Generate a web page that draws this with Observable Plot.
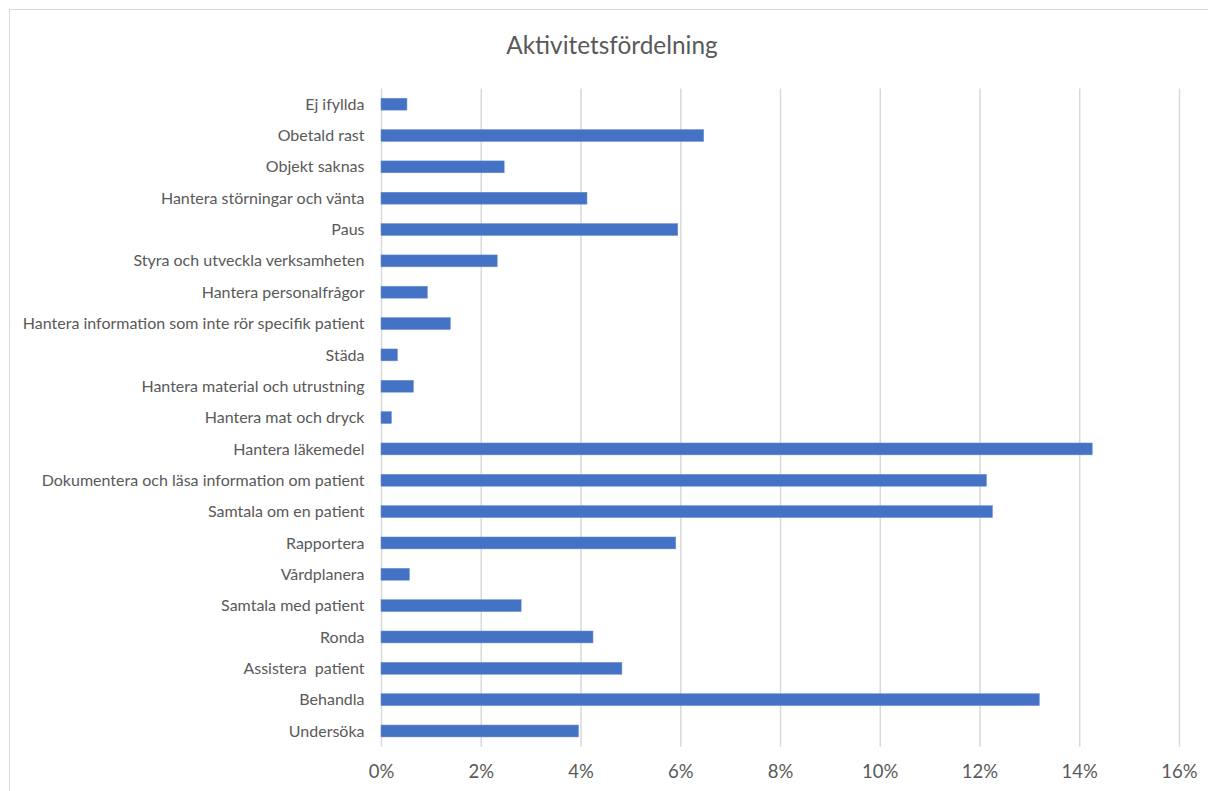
<!DOCTYPE html>
<html>
<head>
<meta charset="utf-8">
<script src="https://cdn.jsdelivr.net/npm/d3@7"></script>
<script src="https://cdn.jsdelivr.net/npm/@observablehq/plot@0.6"></script>
<style>
  html, body { margin: 0; padding: 0; background: #fff; overflow: hidden; }
  #frame { position: absolute; left: 9px; top: 9px; width: 1300px; height: 900px; border: 1.5px solid #d9d9d9; box-sizing: border-box; }
  #title { position: absolute; left: 0; top: 30px; width: 1224px; text-align: center; font-family: Lato, "Open Sans", sans-serif; font-size: 24.4px; color: #595959; }
  #chart { position: absolute; left: 0; top: 80px; }
</style>
</head>
<body>
<div id="frame"></div>
<div id="title">Aktivitetsfördelning</div>
<div id="chart"></div>
<script>
const categories = [
  "Ej ifyllda",
  "Obetald rast",
  "Objekt saknas",
  "Hantera störningar och vänta",
  "Paus",
  "Styra och utveckla verksamheten",
  "Hantera personalfrågor",
  "Hantera information som inte rör specifik patient",
  "Städa",
  "Hantera material och utrustning",
  "Hantera mat och dryck",
  "Hantera läkemedel",
  "Dokumentera och läsa information om patient",
  "Samtala om en patient",
  "Rapportera",
  "Vårdplanera",
  "Samtala med patient",
  "Ronda",
  "Assistera  patient",
  "Behandla",
  "Undersöka"
];
const values = [
  0.0052, 0.0647, 0.0247, 0.0413, 0.0595, 0.0233, 0.0093, 0.0139, 0.0033, 0.0065, 0.0021,
  0.1426, 0.1214, 0.1226, 0.0591, 0.0057, 0.0281, 0.0425, 0.0483, 0.1320, 0.0396
];
const xTicks = [0, 0.02, 0.04, 0.06, 0.08, 0.10, 0.12, 0.14, 0.16];

const data = categories.map((c, i) => ({ category: c, value: values[i] }));

const chart = Plot.plot({
  width: 1208,
  height: 711,
  marginLeft: 381,
  marginRight: 29,
  marginTop: 8.5,
  marginBottom: 44.35,
  style: { fontFamily: "Lato, 'Open Sans', sans-serif", color: "#595959", background: "transparent", overflow: "visible" },
  x: { domain: [0, 0.16], ticks: xTicks, tickFormat: d => Math.round(d * 100) + "%", label: null },
  y: { domain: categories, paddingInner: 0.62, paddingOuter: 0.31, round: false, label: null },
  marks: [
    Plot.ruleX(xTicks, { stroke: "#d9d9d9", strokeWidth: 1.5 }),
    Plot.barX(data, { y: "category", x: "value", fill: "#4472C4", stroke: "#6a8fd3", strokeWidth: 0.5 }),
    Plot.axisX({ ticks: xTicks, tickSize: 0, tickPadding: 17.5, fontSize: 18.5, tickFormat: d => Math.round(d * 100) + "%", label: null }),
    Plot.axisY({ tickSize: 0, tickPadding: 17, fontSize: 16, label: null })
  ]
});
document.getElementById("chart").appendChild(chart);
</script>
</body>
</html>
